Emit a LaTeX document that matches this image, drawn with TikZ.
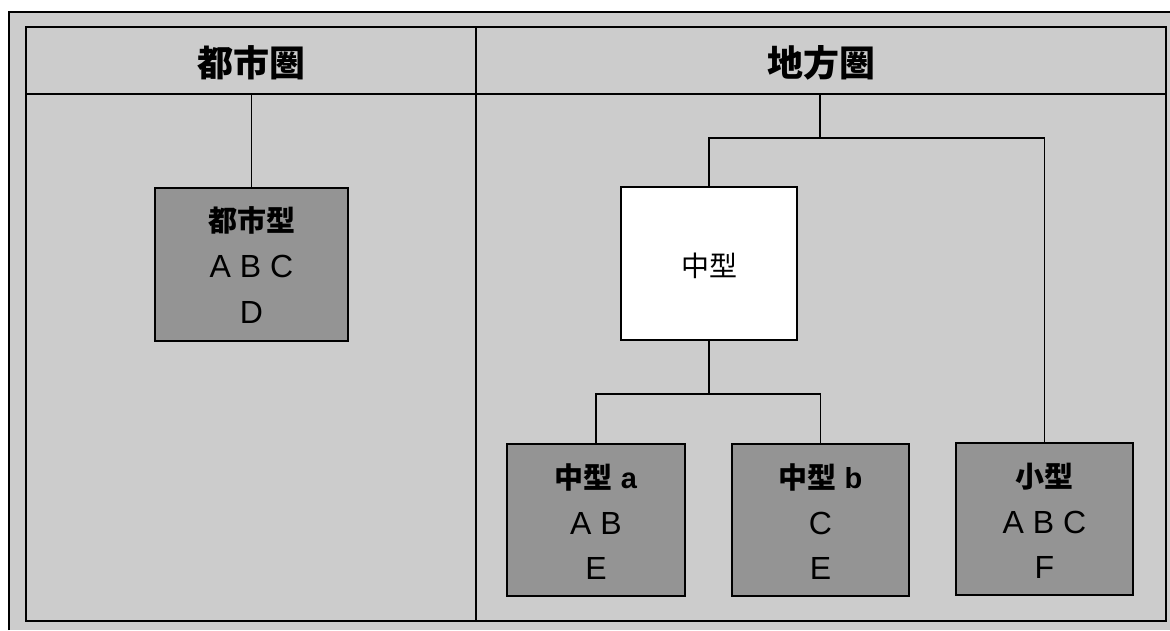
\documentclass[tikz,border=0pt]{standalone}
\usepackage{fontspec}
\newfontfamily\cjk{Noto Sans CJK JP}
\newfontfamily\lat{Liberation Sans}
\definecolor{bgdots}{gray}{0.80}
\definecolor{boxdots}{gray}{0.58}
\tikzset{
  frameline/.style={line width=1.6pt, draw=black},
  conn/.style={line width=1.5pt, draw=black},
  orgbox/.style={draw=black, line width=2pt, fill=boxdots, minimum width=#1, minimum height=152pt, inner sep=0pt, outer sep=0pt},
  whitebox/.style={draw=black, line width=2pt, fill=white, minimum width=176pt, minimum height=153pt, inner sep=0pt, outer sep=0pt},
  hdrtxt/.style={anchor=base, inner sep=0pt, font=\cjk\bfseries\fontsize{36}{40}\selectfont},
  ttltxt/.style={anchor=base, inner sep=0pt, font=\cjk\bfseries\fontsize{29}{32}\selectfont},
  midtxt/.style={anchor=base, inner sep=0pt, font=\cjk\fontsize{28}{32}\selectfont},
  lettxt/.style={anchor=base, inner sep=0pt, font=\lat\fontsize{32}{36}\selectfont},
}
\begin{document}
\begin{tikzpicture}[x=1pt,y=-1pt]
\useasboundingbox (0,0) rectangle (1170,630);
\fill[white] (0,0) rectangle (1170,630);
% halftone background
\fill[bgdots] (9,12) rectangle (1170,630);
\draw[line width=1.2pt] (9,630) -- (9,12) -- (1170,12);
% outer frame, header and divider
\draw[frameline] (26,27) rectangle (1166,621);
\draw[frameline] (26,94) -- (1166,94);
\draw[frameline] (476,27) -- (476,621);
% headers
\node[hdrtxt] (hL) at (251,76) {都市圏};
\node[hdrtxt] (hR) at (821,76) {地方圏};
% left panel
\coordinate (lroot) at (251.5,94);
\node[orgbox=193pt, minimum height=153pt] (tbox) at (251.5,264.5) {};
\node[ttltxt] (tT) at (251.5,231) {都市型};
\node[lettxt] (tL1) at (251.5,277.5) {A B C};
\node[lettxt] (tL2) at (251.5,323.5) {D};
\draw[conn] (lroot) -- (tbox.north);
% right panel
\coordinate (rroot) at (820,94);
\coordinate (rj) at (820,138);
\node[whitebox] (mid) at (709,263.5) {};
\node[midtxt] (midT) at (709,276) {中型};
\node[orgbox=178pt] (ma) at (596,520) {};
\node[orgbox=177pt] (mb) at (820.5,520) {};
\node[orgbox=177pt] (sm) at (1044.5,519) {};
\coordinate (mj) at (709,394);
\draw[conn] (rroot) -- (rj);
\draw[conn] (mid.north) |- (rj) -| (sm.north);
\draw[conn] (mid.south) -- (mj);
\draw[conn] (ma.north) |- (mj) -| (mb.north);
% box texts
\node[ttltxt] (maT) at (596,488.5) {中型\lat\bfseries\ a};
\node[lettxt] (maL1) at (596,534.5) {A B};
\node[lettxt] (maL2) at (596,579.5) {E};
\node[ttltxt] (mbT) at (820.5,488.5) {中型\lat\bfseries\ b};
\node[lettxt] (mbL1) at (820.5,534.5) {C};
\node[lettxt] (mbL2) at (820.5,579.5) {E};
\node[ttltxt] (smT) at (1044.5,487.5) {小型};
\node[lettxt] (smL1) at (1044.5,533.5) {A B C};
\node[lettxt] (smL2) at (1044.5,578.5) {F};
\end{tikzpicture}
\end{document}
